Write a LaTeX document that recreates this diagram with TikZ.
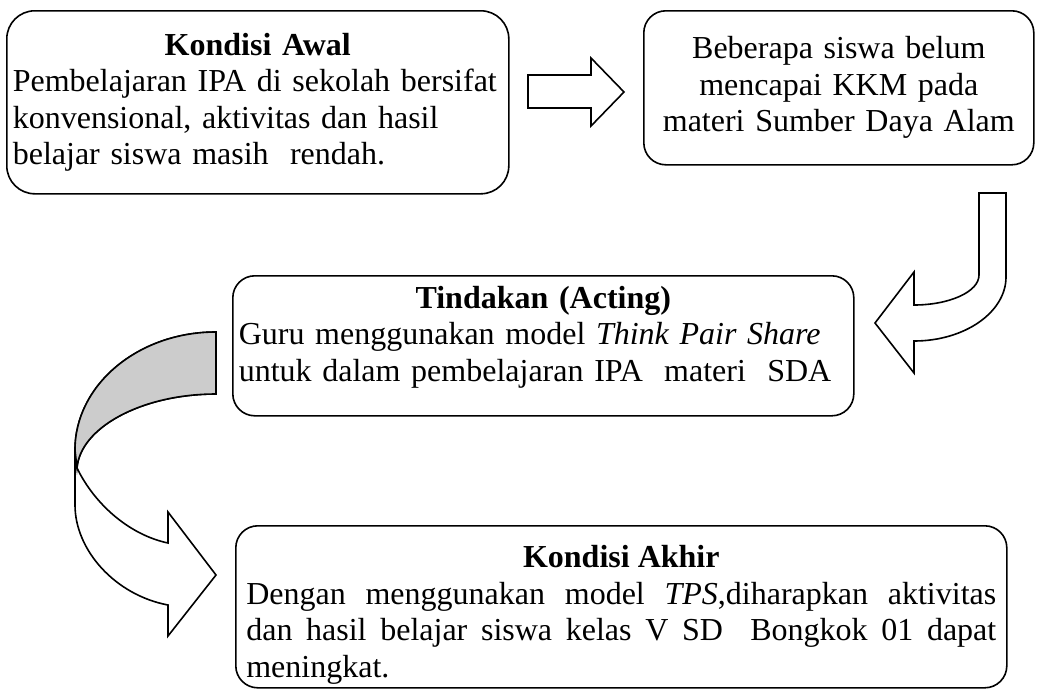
\documentclass[tikz,border=0pt]{standalone}
\usepackage{fontspec}
\setmainfont{Liberation Serif}
\usetikzlibrary{positioning}

\tikzset{
  kotak/.style={draw,line width=1.6pt,rounded corners=22pt,anchor=north west,
    inner ysep=0pt,font=\fontsize{32}{36.5}\selectfont},
  panah/.style={draw,line width=1.6pt,line join=miter,fill=white},
}

\begin{document}
\begin{tikzpicture}[x=1pt,y=-1pt]
  \useasboundingbox (0,0) rectangle (1043,689);
  % kotak-kotak
  \node[kotak,rounded corners=28pt,inner xsep=6pt,text width=490pt,minimum height=183pt,align=left] (awal) at (6,10)
    {\makebox[490pt]{\textbf{Kondisi Awal}}\\ Pembelajaran IPA di sekolah bersifat\\ konvensional, aktivitas dan hasil\\ belajar siswa masih~ rendah.};
  \node[kotak,inner xsep=6pt,text width=378pt,minimum height=154pt,align=center] (masalah) at (643,10)
    {Beberapa siswa belum\\ mencapai KKM pada\\ materi Sumber Daya Alam};
  \node[kotak,inner xsep=6pt,text width=609pt,minimum height=140pt,align=left] (tindakan) at (232,275)
    {\makebox[609pt]{\textbf{Tindakan (Acting)}}\\ Guru menggunakan model \textit{Think Pair Share}\\ untuk dalam pembelajaran IPA~ materi~ SDA\rule[-24pt]{0pt}{0pt}};
  \node[kotak,inner xsep=10.5pt,text width=750pt,minimum height=162pt,align=left] (akhir) at (235,525)
    {\spaceskip=0.25em plus 1em minus 0.05em
     \rule{0pt}{38pt}\makebox[750pt]{\textbf{Kondisi Akhir}}\\ \makebox[750pt][s]{Dengan menggunakan model \textit{TPS},diharapkan aktivitas}\\
     \makebox[750pt][s]{dan hasil belajar siswa kelas V SD~ Bongkok 01 dapat}\\ meningkat.};
  % panah
  \draw[panah] (528,75) -- (591,75) -- (591,58) -- (624,92) -- (591,126) -- (591,108) -- (528,108) -- cycle;
  \draw[panah] (979,193) -- (1006,193) -- (1006,277) .. controls (1006,312) and (965,341) .. (914,341)
    -- (914,373) -- (875,323) -- (914,272) -- (914,305) .. controls (949,305) and (979,292) .. (979,275) -- cycle;
  \draw[panah] (216,332) .. controls (138,332) and (75,385) .. (75,450) -- (75,505)
    .. controls (75,550) and (115,595) .. (168,605) -- (168,636) -- (216,575) -- (168,512) -- (168,543)
    .. controls (130,535) and (95,505) .. (77,468) .. controls (80,428) and (141,394) .. (216,394) -- cycle;
  \draw[panah,fill=gray!40] (216,332) .. controls (138,332) and (75,385) .. (75,450) -- (77,468)
    .. controls (80,428) and (141,394) .. (216,394) -- cycle;
\end{tikzpicture}
\end{document}
